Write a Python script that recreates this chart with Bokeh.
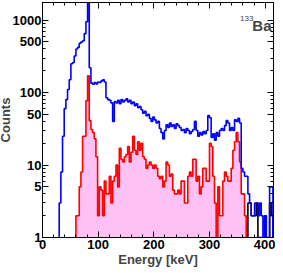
import numpy as np
from bokeh.plotting import figure
from bokeh.models import Range1d, FixedTicker, LinearAxis, LogAxis, Label, CustomJSTickFormatter
from bokeh.embed import file_html
from bokeh.resources import INLINE

# ---------------- data (3 keV bins) ----------------
BIN = 3
blue_start = 27
blue_counts = [0, 3, 8, 25, 60, 80, 110, 150, 250, 260, 320, 400, 420, 480, 500, 520, 650, 950,
               2500, 220, 135, 130, 138, 132, 140, 138, 145, 150, 140, 85, 80, 78, 72, 40, 75, 72,
               78, 70, 80, 74, 78, 82, 74, 78, 70, 74, 66, 70, 62, 64, 58, 52, 55, 48, 50, 44, 40,
               46, 42, 38, 40, 32, 28, 23, 30, 36, 33, 38, 34, 36, 32, 37, 35, 33, 30, 31, 28, 32,
               30, 27, 29, 31, 40, 30, 25, 28, 26, 29, 27, 30, 48, 45, 24, 27, 22, 28, 25, 30, 32,
               30, 35, 41, 38, 30, 33, 30, 42, 40, 44, 38, 9, 8, 7, 7, 4, 3, 2, 2, 3, 3, 2, 3, 2,
               1, 2, 1, 0, 5, 5]

red_start = 60
red_counts = [2, 2, 5, 8, 25, 25, 77, 170, 41, 31, 28, 23, 13, 2, 5, 4.5, 2, 6, 4, 4, 7, 3, 6, 7,
              10, 5, 17, 12, 11, 13, 14, 18, 11, 15, 25, 16, 14, 21, 16, 20, 13, 12, 9, 10, 11, 10,
              9, 10, 9, 7, 6.5, 7, 5, 6, 11, 10, 7, 7.5, 4.5, 4, 4, 4.5, 4, 6, 6, 3, 3, 7, 8, 7, 12,
              12, 6, 7, 4, 5, 9, 9, 6, 6, 20, 18, 7, 3, 0, 5, 2, 2, 6, 8, 7, 6, 6, 9, 16, 21, 28,
              21, 11, 4, 4, 2, 1]

black_start = 369
black_counts = [3, 3, 2, 2, 2, 3, 1, 1, 1, 1, 2, 1, 1, 3, 2]

x_major = [0, 100, 200, 300, 400]
y_major = [1, 5, 10, 50, 100, 500, 1000]
x_minor = list(range(0, 420, 20))
y_minor = [m * d for d in (1, 10, 100, 1000) for m in range(1, 10)]

FLOOR = 0.5


def steps(start, counts):
    xs, ys = [start], [FLOOR]
    for i, c in enumerate(counts):
        v = c if c > 0 else FLOOR
        left = start + i * BIN
        xs += [left, left + BIN]
        ys += [v, v]
    xs.append(start + len(counts) * BIN)
    ys.append(FLOOR)
    return xs, ys


FONT = "Liberation Sans"

p = figure(width=281, height=273, x_range=Range1d(0, 415), y_range=Range1d(1, 1750),
           y_axis_type="log", output_backend="svg", toolbar_location=None,
           min_border_left=44, min_border_right=2, min_border_top=2, min_border_bottom=36)
p.styles = {"margin-left": "-6px"}
p.grid.visible = False
p.outline_line_color = "black"
p.outline_line_width = 1
p.background_fill_color = "white"
p.border_fill_color = "white"

rx, ry = steps(red_start, red_counts)
p.varea(x=rx, y1=[FLOOR] * len(rx), y2=ry, fill_color="#ffc0f4")
kx, ky = steps(black_start, black_counts)
p.line(kx, ky, line_color="black", line_width=1.6)
p.line(rx, ry, line_color="#ff0000", line_width=1.6)
bx, by = steps(blue_start, blue_counts)
p.line(bx, by, line_color="#0000ff", line_width=1.6)


def style_axis(ax, ticks, minor, labels=True):
    ax.ticker = FixedTicker(ticks=ticks, minor_ticks=minor)
    ax.major_tick_in = 6
    ax.major_tick_out = 0
    ax.minor_tick_in = 3
    ax.minor_tick_out = 0
    ax.major_tick_line_width = 1
    ax.axis_line_width = 1
    ax.major_label_text_font = FONT
    ax.major_label_text_font_style = "bold"
    ax.major_label_text_font_size = "13px"
    ax.major_label_text_color = "black"
    ax.major_label_standoff = 2
    ax.axis_label_text_font = FONT
    ax.axis_label_text_font_style = "bold"
    ax.axis_label_text_font_size = "13px"
    ax.axis_label_standoff = 0
    if not labels:
        ax.formatter = CustomJSTickFormatter(code="return ''")
        ax.major_label_standoff = 0


style_axis(p.xaxis[0], x_major, x_minor)
style_axis(p.yaxis[0], y_major, y_minor)
p.xaxis[0].axis_label = "Energy [keV]"
p.yaxis[0].axis_label = "Counts"
p.yaxis[0].major_label_standoff = 1
p.yaxis[0].axis_label_standoff = -3

top = LinearAxis()
style_axis(top, x_major, x_minor, labels=False)
p.add_layout(top, "above")
right = LogAxis()
style_axis(right, y_major, y_minor, labels=False)
p.add_layout(right, "right")

p.add_layout(Label(x=355, y=1050, text="133", text_font=FONT, text_font_size="8px",
                   text_baseline="alphabetic"))
p.add_layout(Label(x=377, y=840, text="Ba", text_font=FONT, text_font_style="bold",
                   text_font_size="15px", text_baseline="alphabetic"))

open("out.html", "w").write(file_html(p, INLINE))
